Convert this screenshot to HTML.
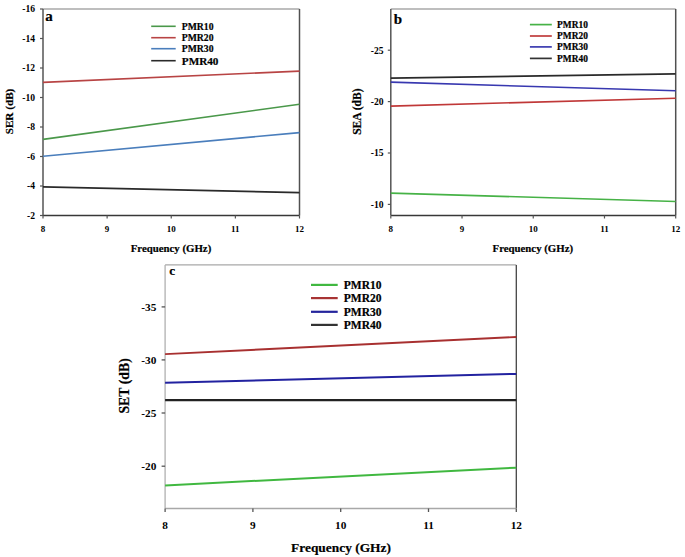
<!DOCTYPE html>
<html><head><meta charset="utf-8"><style>
html,body{margin:0;padding:0;background:#fff;}
body{width:685px;height:557px;overflow:hidden;}
svg{display:block;}
text{font-family:"Liberation Serif",serif;font-weight:bold;stroke:#000;stroke-width:0.2px;}
text.tk{stroke-width:0;}
</style></head><body>
<svg width="685" height="557" viewBox="0 0 685 557">
<rect width="685" height="557" fill="#fff"/>
<line x1="43" y1="9" x2="299.5" y2="9" stroke="#a8a8a8" stroke-width="1.5"/>
<line x1="299.5" y1="9" x2="299.5" y2="215.5" stroke="#505050" stroke-width="1.5"/>
<line x1="43" y1="215.5" x2="299.5" y2="215.5" stroke="#383838" stroke-width="1.5"/>
<line x1="43" y1="9" x2="43" y2="215.5" stroke="#555" stroke-width="1.5"/>
<line x1="40" y1="9" x2="43" y2="9" stroke="#555" stroke-width="1.2"/>
<text x="35" y="12.3" font-size="9.6" text-anchor="end" fill="#000" class="tk">-16</text>
<line x1="40" y1="38.5" x2="43" y2="38.5" stroke="#555" stroke-width="1.2"/>
<text x="35" y="41.8" font-size="9.6" text-anchor="end" fill="#000" class="tk">-14</text>
<line x1="40" y1="68" x2="43" y2="68" stroke="#555" stroke-width="1.2"/>
<text x="35" y="71.3" font-size="9.6" text-anchor="end" fill="#000" class="tk">-12</text>
<line x1="40" y1="97.5" x2="43" y2="97.5" stroke="#555" stroke-width="1.2"/>
<text x="35" y="100.8" font-size="9.6" text-anchor="end" fill="#000" class="tk">-10</text>
<line x1="40" y1="127" x2="43" y2="127" stroke="#555" stroke-width="1.2"/>
<text x="35" y="130.3" font-size="9.6" text-anchor="end" fill="#000" class="tk">-8</text>
<line x1="40" y1="156.5" x2="43" y2="156.5" stroke="#555" stroke-width="1.2"/>
<text x="35" y="159.8" font-size="9.6" text-anchor="end" fill="#000" class="tk">-6</text>
<line x1="40" y1="186" x2="43" y2="186" stroke="#555" stroke-width="1.2"/>
<text x="35" y="189.3" font-size="9.6" text-anchor="end" fill="#000" class="tk">-4</text>
<line x1="40" y1="215.5" x2="43" y2="215.5" stroke="#555" stroke-width="1.2"/>
<text x="35" y="218.8" font-size="9.6" text-anchor="end" fill="#000" class="tk">-2</text>
<line x1="43" y1="215.5" x2="43" y2="218.5" stroke="#555" stroke-width="1.2"/>
<text x="43" y="231.8" font-size="9" text-anchor="middle" fill="#000" class="tk">8</text>
<line x1="107.12" y1="215.5" x2="107.12" y2="218.5" stroke="#555" stroke-width="1.2"/>
<text x="107.12" y="231.8" font-size="9" text-anchor="middle" fill="#000" class="tk">9</text>
<line x1="171.25" y1="215.5" x2="171.25" y2="218.5" stroke="#555" stroke-width="1.2"/>
<text x="171.25" y="231.8" font-size="9" text-anchor="middle" fill="#000" class="tk">10</text>
<line x1="235.38" y1="215.5" x2="235.38" y2="218.5" stroke="#555" stroke-width="1.2"/>
<text x="235.38" y="231.8" font-size="9" text-anchor="middle" fill="#000" class="tk">11</text>
<line x1="299.5" y1="215.5" x2="299.5" y2="218.5" stroke="#555" stroke-width="1.2"/>
<text x="299.5" y="231.8" font-size="9" text-anchor="middle" fill="#000" class="tk">12</text>
<line x1="43" y1="82.4" x2="299.5" y2="71.1" stroke="#b84444" stroke-width="1.6"/>
<line x1="43" y1="139.4" x2="299.5" y2="104.3" stroke="#4a984a" stroke-width="1.6"/>
<line x1="43" y1="156.2" x2="299.5" y2="132.6" stroke="#4a7ebc" stroke-width="1.6"/>
<line x1="43" y1="186.8" x2="299.5" y2="192.7" stroke="#2a2a2a" stroke-width="1.8"/>
<line x1="151.2" y1="26.3" x2="175.7" y2="26.3" stroke="#4a984a" stroke-width="1.6"/>
<text x="181.8" y="29.79" font-size="9.7" text-anchor="start" fill="#000">PMR10</text>
<line x1="151.2" y1="37.7" x2="175.7" y2="37.7" stroke="#b84444" stroke-width="1.6"/>
<text x="181.8" y="41.19" font-size="9.7" text-anchor="start" fill="#000">PMR20</text>
<line x1="151.2" y1="48.7" x2="175.7" y2="48.7" stroke="#4a7ebc" stroke-width="1.6"/>
<text x="181.8" y="52.19" font-size="9.7" text-anchor="start" fill="#000">PMR30</text>
<line x1="151.2" y1="60.7" x2="175.7" y2="60.7" stroke="#2a2a2a" stroke-width="1.6"/>
<text x="181.8" y="64.73" font-size="11.2" text-anchor="start" fill="#000">PMR40</text>
<text x="45.2" y="20.8" font-size="15" text-anchor="start" fill="#000">a</text>
<text x="171" y="251.7" font-size="10.8" text-anchor="middle" fill="#000">Frequency (GHz)</text>
<text x="12.8" y="111.5" font-size="11.2" text-anchor="middle" fill="#000" transform="rotate(-90 12.8 111.5)">SER (dB)</text>
<line x1="390.8" y1="9" x2="675.7" y2="9" stroke="#a8a8a8" stroke-width="1.5"/>
<line x1="675.7" y1="9" x2="675.7" y2="215.5" stroke="#505050" stroke-width="1.5"/>
<line x1="390.8" y1="215.5" x2="675.7" y2="215.5" stroke="#383838" stroke-width="1.5"/>
<line x1="390.8" y1="9" x2="390.8" y2="215.5" stroke="#555" stroke-width="1.5"/>
<line x1="387.8" y1="50.2" x2="390.8" y2="50.2" stroke="#555" stroke-width="1.2"/>
<text x="383.5" y="53.5" font-size="9.6" text-anchor="end" fill="#000" class="tk">-25</text>
<line x1="387.8" y1="101.6" x2="390.8" y2="101.6" stroke="#555" stroke-width="1.2"/>
<text x="383.5" y="104.9" font-size="9.6" text-anchor="end" fill="#000" class="tk">-20</text>
<line x1="387.8" y1="153" x2="390.8" y2="153" stroke="#555" stroke-width="1.2"/>
<text x="383.5" y="156.3" font-size="9.6" text-anchor="end" fill="#000" class="tk">-15</text>
<line x1="387.8" y1="204.4" x2="390.8" y2="204.4" stroke="#555" stroke-width="1.2"/>
<text x="383.5" y="207.7" font-size="9.6" text-anchor="end" fill="#000" class="tk">-10</text>
<line x1="390.8" y1="215.5" x2="390.8" y2="218.5" stroke="#555" stroke-width="1.2"/>
<text x="390.8" y="231.7" font-size="9" text-anchor="middle" fill="#000" class="tk">8</text>
<line x1="462.03" y1="215.5" x2="462.03" y2="218.5" stroke="#555" stroke-width="1.2"/>
<text x="462.03" y="231.7" font-size="9" text-anchor="middle" fill="#000" class="tk">9</text>
<line x1="533.25" y1="215.5" x2="533.25" y2="218.5" stroke="#555" stroke-width="1.2"/>
<text x="533.25" y="231.7" font-size="9" text-anchor="middle" fill="#000" class="tk">10</text>
<line x1="604.48" y1="215.5" x2="604.48" y2="218.5" stroke="#555" stroke-width="1.2"/>
<text x="604.48" y="231.7" font-size="9" text-anchor="middle" fill="#000" class="tk">11</text>
<line x1="675.7" y1="215.5" x2="675.7" y2="218.5" stroke="#555" stroke-width="1.2"/>
<text x="675.7" y="231.7" font-size="9" text-anchor="middle" fill="#000" class="tk">12</text>
<line x1="390.8" y1="78.1" x2="675.7" y2="73.9" stroke="#2a2a2a" stroke-width="1.6"/>
<line x1="390.8" y1="82.1" x2="675.7" y2="90.8" stroke="#3838b0" stroke-width="1.6"/>
<line x1="390.8" y1="106.1" x2="675.7" y2="98.2" stroke="#c03838" stroke-width="1.6"/>
<line x1="390.8" y1="193.1" x2="675.7" y2="201.5" stroke="#46b246" stroke-width="1.6"/>
<line x1="529.9" y1="24.6" x2="551.8" y2="24.6" stroke="#46b246" stroke-width="1.7"/>
<text x="557.1" y="27.98" font-size="9.4" text-anchor="start" fill="#000">PMR10</text>
<line x1="529.9" y1="36" x2="551.8" y2="36" stroke="#c03c3c" stroke-width="1.7"/>
<text x="557.1" y="39.38" font-size="9.4" text-anchor="start" fill="#000">PMR20</text>
<line x1="529.9" y1="46.9" x2="551.8" y2="46.9" stroke="#3c3cb0" stroke-width="1.7"/>
<text x="557.1" y="50.28" font-size="9.4" text-anchor="start" fill="#000">PMR30</text>
<line x1="529.9" y1="58.4" x2="551.8" y2="58.4" stroke="#333" stroke-width="1.7"/>
<text x="557.1" y="61.78" font-size="9.4" text-anchor="start" fill="#000">PMR40</text>
<text x="393.8" y="23.6" font-size="15" text-anchor="start" fill="#000">b</text>
<text x="532.8" y="251.7" font-size="10.8" text-anchor="middle" fill="#000">Frequency (GHz)</text>
<text x="361.5" y="111.7" font-size="11.5" text-anchor="middle" fill="#000" transform="rotate(-90 361.5 111.7)">SEA (dB)</text>
<line x1="165.1" y1="264.9" x2="516.3" y2="264.9" stroke="#a8a8a8" stroke-width="1.3"/>
<line x1="516.3" y1="264.9" x2="516.3" y2="508.5" stroke="#444" stroke-width="1.3"/>
<line x1="165.1" y1="508.5" x2="516.3" y2="508.5" stroke="#a8a8a8" stroke-width="1.3"/>
<line x1="165.1" y1="264.9" x2="165.1" y2="508.5" stroke="#b0b0b0" stroke-width="1.3"/>
<line x1="161.6" y1="306.9" x2="165.1" y2="306.9" stroke="#555" stroke-width="1.3"/>
<text x="156.3" y="310.7" font-size="11.3" text-anchor="end" fill="#000" class="tk">-35</text>
<line x1="161.6" y1="359.9" x2="165.1" y2="359.9" stroke="#555" stroke-width="1.3"/>
<text x="156.3" y="363.7" font-size="11.3" text-anchor="end" fill="#000" class="tk">-30</text>
<line x1="161.6" y1="413" x2="165.1" y2="413" stroke="#555" stroke-width="1.3"/>
<text x="156.3" y="416.8" font-size="11.3" text-anchor="end" fill="#000" class="tk">-25</text>
<line x1="161.6" y1="466.2" x2="165.1" y2="466.2" stroke="#555" stroke-width="1.3"/>
<text x="156.3" y="470" font-size="11.3" text-anchor="end" fill="#000" class="tk">-20</text>
<line x1="165.1" y1="508.5" x2="165.1" y2="512" stroke="#555" stroke-width="1.3"/>
<text x="165.1" y="529" font-size="11.3" text-anchor="middle" fill="#000" class="tk">8</text>
<line x1="252.9" y1="508.5" x2="252.9" y2="512" stroke="#555" stroke-width="1.3"/>
<text x="252.9" y="529" font-size="11.3" text-anchor="middle" fill="#000" class="tk">9</text>
<line x1="340.7" y1="508.5" x2="340.7" y2="512" stroke="#555" stroke-width="1.3"/>
<text x="340.7" y="529" font-size="11.3" text-anchor="middle" fill="#000" class="tk">10</text>
<line x1="428.5" y1="508.5" x2="428.5" y2="512" stroke="#555" stroke-width="1.3"/>
<text x="428.5" y="529" font-size="11.3" text-anchor="middle" fill="#000" class="tk">11</text>
<line x1="516.3" y1="508.5" x2="516.3" y2="512" stroke="#555" stroke-width="1.3"/>
<text x="516.3" y="529" font-size="11.3" text-anchor="middle" fill="#000" class="tk">12</text>
<line x1="165.1" y1="354.1" x2="516.3" y2="337" stroke="#a83030" stroke-width="1.9"/>
<line x1="165.1" y1="382.7" x2="516.3" y2="373.9" stroke="#2222a0" stroke-width="2"/>
<line x1="165.1" y1="400.2" x2="516.3" y2="400.1" stroke="#222" stroke-width="2.3"/>
<line x1="165.1" y1="485.4" x2="516.3" y2="467.7" stroke="#40b840" stroke-width="2"/>
<line x1="311" y1="284.9" x2="337.7" y2="284.9" stroke="#40b840" stroke-width="2.2"/>
<text x="343.8" y="289.04" font-size="11.5" text-anchor="start" fill="#000">PMR10</text>
<line x1="311" y1="298.1" x2="337.7" y2="298.1" stroke="#a83434" stroke-width="2.2"/>
<text x="343.8" y="302.24" font-size="11.5" text-anchor="start" fill="#000">PMR20</text>
<line x1="311" y1="311.8" x2="337.7" y2="311.8" stroke="#24249c" stroke-width="2.2"/>
<text x="343.8" y="315.94" font-size="11.5" text-anchor="start" fill="#000">PMR30</text>
<line x1="311" y1="324.9" x2="337.7" y2="324.9" stroke="#333" stroke-width="2.2"/>
<text x="343.8" y="329.04" font-size="11.5" text-anchor="start" fill="#000">PMR40</text>
<text x="169.2" y="275.2" font-size="13.2" text-anchor="start" fill="#000">c</text>
<text x="341" y="552.4" font-size="13.4" text-anchor="middle" fill="#000">Frequency (GHz)</text>
<text x="128.8" y="385.9" font-size="13.8" text-anchor="middle" fill="#000" transform="rotate(-90 128.8 385.9)">SET (dB)</text>
</svg>
</body></html>
